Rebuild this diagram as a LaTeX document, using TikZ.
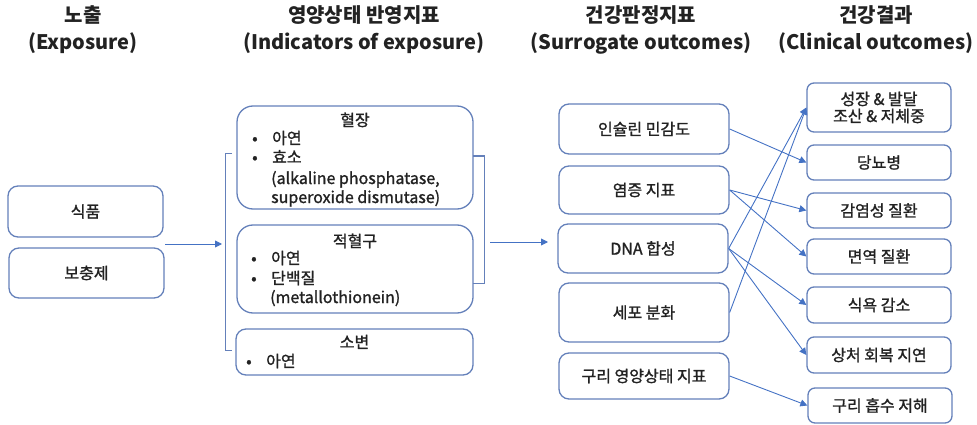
\documentclass[tikz,border=0pt]{standalone}
\usepackage{fontspec}
\setmainfont{Noto Sans CJK KR}
\newfontfamily\medfont{Noto Sans CJK KR}[FakeBold=1.3]
\usetikzlibrary{arrows.meta}

\definecolor{boxblue}{RGB}{100,128,186}
\definecolor{arrblue}{RGB}{68,114,196}
\definecolor{txt}{RGB}{34,34,34}

\tikzset{
  box/.style={draw=boxblue, line width=1.3pt, rounded corners=10pt, inner sep=0pt,
    text=txt, align=center, font=\medfont\fontsize{16}{17}\selectfont},
  bigbox/.style={box, rounded corners=16pt},
  smallbox/.style={box, rounded corners=7pt},
  head/.style={text=txt, align=center, font=\bfseries\fontsize{20}{27}\selectfont},
  title/.style={anchor=base, inner sep=0pt, text=txt, font=\medfont\fontsize{16}{19}\selectfont},
  item/.style={anchor=base west, inner sep=0pt, text=txt, font=\medfont\fontsize{16}{19}\selectfont},
  brace/.style={draw=boxblue, line width=1pt},
  link/.style={draw=arrblue, line width=0.9pt, -{Triangle[length=7pt,width=7pt]}},
}
\newcommand{\bul}[1]{\makebox[20pt][l]{\textbullet}#1}

\begin{document}
\begin{tikzpicture}[x=1pt, y=-1pt]
  \useasboundingbox (0,0) rectangle (977,425);

  % column headings
  \node[head] (h1) at (83,30) {노출\\(Exposure)};
  \node[head] (h2) at (364,30) {영양상태 반영지표\\(Indicators of exposure)};
  \node[head] (h3) at (641,30) {건강판정지표\\(Surrogate outcomes)};
  \node[head] (h4) at (876,30) {건강결과\\(Clinical outcomes)};

  % exposure
  \node[box, minimum width=155pt, minimum height=51pt] (food) at (85.5,211.5) {식품};
  \node[box, minimum width=155pt, minimum height=50pt] (supp) at (86.5,273) {보충제};
  \coordinate (expo) at (165,244);
  \coordinate (bracel) at (222,244);

  % indicators of exposure
  \node[bigbox, minimum width=236pt, minimum height=103pt] (plasma) at (355,157.5) {};
  \node[title] (plasmat) at (355,126) {혈장};
  \node[item] (plasma1) at (252,144) {\bul{아연}};
  \node[item] (plasma2) at (252,163) {\bul{효소}};
  \node[item] (plasma3) at (271,184) {(alkaline phosphatase,};
  \node[item] (plasma4) at (271,203) {superoxide dismutase)};

  \node[bigbox, minimum width=236pt, minimum height=88pt] (rbc) at (355,269) {};
  \node[title] (rbct) at (355,247) {적혈구};
  \node[item] (rbc1) at (251,264) {\bul{아연}};
  \node[item] (rbc2) at (251,284) {\bul{단백질}};
  \node[item] (rbc3) at (270,303) {(metallothionein)};

  \node[box, minimum width=237pt, minimum height=46pt] (urine) at (354.5,352) {};
  \node[title] (urinet) at (354.5,348) {소변};
  \node[item] (urine1) at (246,367) {\bul{아연}};

  \draw[brace] (232,154) -- (225,154) -- (225,350) -- (232,350);
  \draw[brace] (473,156) -- (484,156) -- (484,283) -- (473,283);
  \coordinate (bracer) at (490,242);
  \coordinate (surr) at (548,242);

  % surrogate outcomes
  \node[box, minimum width=170pt, minimum height=50pt] (insulin) at (644,129) {인슐린 민감도};
  \node[box, minimum width=170pt, minimum height=48pt] (inflam) at (644,190) {염증 지표};
  \node[box, minimum width=170pt, minimum height=49pt] (dna) at (643,248.5) {DNA 합성};
  \node[box, minimum width=170pt, minimum height=59pt] (diff) at (644,312.5) {세포 분화};
  \node[box, minimum width=170pt, minimum height=46pt] (copper) at (644,376) {구리 영양상태 지표};

  % clinical outcomes
  \node[smallbox, minimum width=144pt, minimum height=49pt] (growth) at (879,107.5) {성장 \& 발달\\조산 \& 저체중};
  \node[smallbox, minimum width=144pt, minimum height=35pt] (diabetes) at (879,162.5) {당뇨병};
  \node[smallbox, minimum width=144pt, minimum height=35pt] (infect) at (879,210.5) {감염성 질환};
  \node[smallbox, minimum width=144pt, minimum height=35pt] (immune) at (879,256.5) {면역 질환};
  \node[smallbox, minimum width=144pt, minimum height=36pt] (appetite) at (879,305) {식욕 감소};
  \node[smallbox, minimum width=144pt, minimum height=36pt] (wound) at (879,355) {상처 회복 지연};
  \node[smallbox, minimum width=144pt, minimum height=35pt] (absorb) at (880,405.5) {구리 흡수 저해};

  % arrows
  \draw[link] (expo) -- (bracel);
  \draw[link] (bracer) -- (surr);
  \draw[link] (insulin.east) -- (diabetes.west);
  \draw[link] (inflam.east) -- (infect.west);
  \draw[link] (inflam.east) -- (immune.west);
  \draw[link] (dna.east) -- (growth.west);
  \draw[link] (dna.east) -- (appetite.west);
  \draw[link] (dna.east) -- (wound.west);
  \draw[link] (diff.east) -- (growth.west);
  \draw[link] (copper.east) -- (absorb.west);
\end{tikzpicture}
\end{document}
